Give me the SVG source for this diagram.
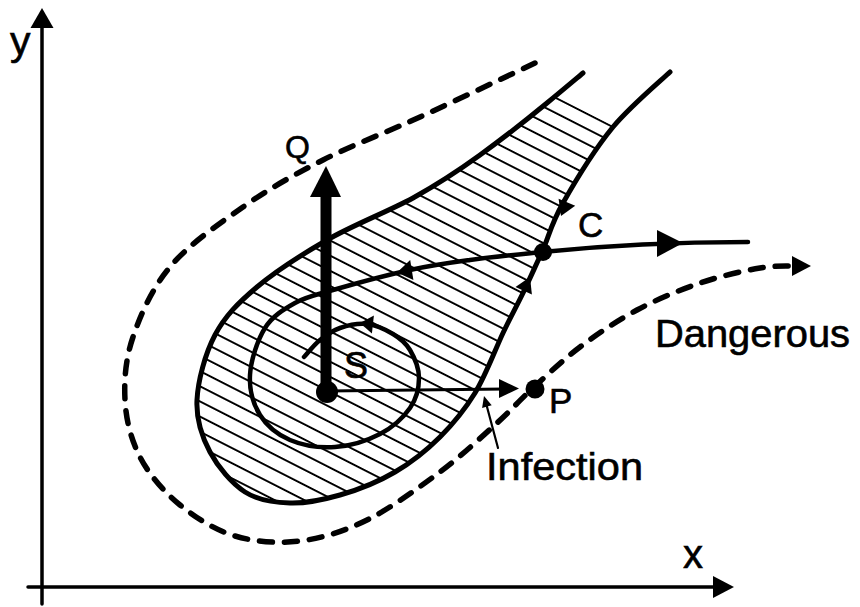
<svg xmlns="http://www.w3.org/2000/svg" width="860" height="607" viewBox="0 0 860 607">
<style>
.ln{fill:none;stroke:#000;stroke-linecap:round;stroke-linejoin:round}
.bd{stroke-width:5}
.sp{stroke-width:4.5}
.th{stroke-width:3.2}
.ds{stroke-width:5.5;stroke-dasharray:13 12}
.hd{fill:#000;stroke:none}
.lb{font-family:"Liberation Sans",Arial,sans-serif;fill:#000;stroke:#000;stroke-width:0.6}
</style>
<defs>
<pattern id="hatch" patternUnits="userSpaceOnUse" x="0" y="3.65" width="40" height="13.5" patternTransform="rotate(27)">
<line x1="-5" y1="6.75" x2="45" y2="6.75" stroke="#000" stroke-width="1.9"/>
</pattern>
<path id="tear" d="M583,73 C577,78 564,89 547,103 C530,117 502,139 480,155 C458,171 438,184 413,198 C387,212 353,225 327,240 C301,255 276,271 257,287 C238,303 225,316 215,335 C205,354 198,380.5 197,400 C196,419.5 202,437 210,452 C218,467 231.7,483.5 245,492 C258.3,500.5 274,502.5 290,503 C306,503.5 322.5,500 340,495 C357.5,490 378,482 395,472 C411.7,462.3 427,450 440,437 C453,424 464.5,410 475,393 C485.5,376 495,350 503,333 C511,316 516.5,306.5 523,293 C529.5,279.5 535,267 542,252 C548.7,237 551,224 563,203 C574.8,182 595,149 613,127 C630.8,105.8 660.5,81 670,72"/>
<clipPath id="tearClip"><use href="#tear"/></clipPath>
<clipPath id="topClip"><polygon points="100,-136 800,221 800,620 100,620"/></clipPath>
</defs>
<rect width="860" height="607" fill="#fff"/>

<g id="axes">
<line class="ln" x1="42" y1="604" x2="42" y2="26" stroke-width="3.5"/>
<polygon class="hd" points="42,8 30.5,28 53.5,28"/>
<line class="ln" x1="28" y1="587" x2="715" y2="587" stroke-width="3.5"/>
<polygon class="hd" points="734,587 713,576 713,598"/>
</g>

<g id="region">
<g clip-path="url(#topClip)"><g clip-path="url(#tearClip)">
<rect x="150" y="50" width="560" height="480" fill="url(#hatch)"/>
</g></g>
<use href="#tear" class="ln bd"/>
</g>

<g id="connectors">
<path id="dangerous-curve" class="ln ds" d="M535,63 C516,72 455,101 420,117 C385,133 352.5,145 323,160 C293.5,175 268.5,189 243,207 C217.5,225 188,245 170,267 C151.7,288.7 140.5,315 133,337 C125.5,359 124,380 125,400 C126,420 131,439.5 140,457 C149,474.5 164,492 180,505 C196,518 215,530 235,536 C255,542 278,543.7 300,541 C322,538.3 343.7,531.5 367,520 C390.3,508.5 418.3,488 440,472 C461.7,455.8 481.5,437 497,423 C512.5,409 519,400.7 533,388 C546.8,375.3 562.7,360 580,347 C597.3,334 617,320.7 637,310 C657,299.3 679.5,290 700,283 C720.5,276 744,270.8 760,268 C775.8,265.2 789,266.3 795,266"/>
<polygon class="hd" points="811,266 792,256 792,276"/>

<path id="spiral" class="ln sp" d="M542,252 C530,253.3 492,257 470,260 C448,263 432.8,265 410,270 C387.2,275 352,284.5 333,290 C313.8,295.5 306.3,296.7 295,303 C283.7,309.3 272.5,316 265,328 C257.5,340 250.8,360.5 250,375 C249.2,389.5 253.3,404.2 260,415 C266.7,425.8 277.5,434.7 290,440 C302.5,445.3 320,448 335,447 C350,446 367.5,440.5 380,434 C392.5,427.5 403.5,417.3 410,408 C416.5,398.7 419,387.7 419,378 C419,368.3 414.3,357.3 410,350 C405.7,342.7 400.2,338.3 393,334 C385.8,329.7 375.8,325 367,324 C358.2,323 347.8,325.3 340,328 C332.2,330.7 326,335.2 320,340 C314,344.8 306.7,354.2 304,357"/>
<polygon class="hd" points="397,272.5 413.4,279.9 410.2,260.1"/>
<polygon class="hd" points="360,323 373.9,315.6 371.9,333.4"/>

<path id="c-out" class="ln sp" d="M542,252 Q640,242 748,242"/>
<polygon class="hd" points="683,243 657,230 657,257"/>

<polygon class="hd" points="561,216 575.2,205.7 558.6,198.7"/>
<polygon class="hd" points="530,277 531.9,294.5 515.5,286.9"/>

<line id="s-p" class="ln th" x1="327" y1="391" x2="505" y2="389"/>
<polygon class="hd" points="519,388.5 499,379 499,398"/>

<line id="q-arrow" class="ln" x1="326" y1="392" x2="326" y2="192" stroke-width="11" stroke-linecap="butt"/>
<polygon class="hd" points="326,166 310,197 341,197"/>

<line id="infection-arrow" class="ln" x1="498" y1="448" x2="486.5" y2="405" stroke-width="2.2"/>
<polygon class="hd" points="484,396 491.7,405.3 482.1,407.9"/>
</g>

<g id="node-S"><circle cx="327" cy="392" r="11"/><text class="lb" x="344" y="378" font-size="36">S</text></g>
<g id="node-P"><circle cx="535" cy="389" r="9.5"/><text class="lb" x="549" y="413" font-size="35">P</text></g>
<g id="node-C"><circle cx="543" cy="252" r="9"/><text class="lb" x="578" y="237" font-size="35">C</text></g>
<g id="node-Q"><text class="lb" x="285" y="158" font-size="32">Q</text></g>
<g id="labels">
<text class="lb" x="655" y="347" font-size="39" textLength="195" lengthAdjust="spacingAndGlyphs">Dangerous</text>
<text class="lb" x="486" y="480" font-size="39" textLength="157" lengthAdjust="spacingAndGlyphs">Infection</text>
<text class="lb" x="10" y="55" font-size="41">y</text>
<text class="lb" x="683" y="568" font-size="40">x</text>
</g>
</svg>
